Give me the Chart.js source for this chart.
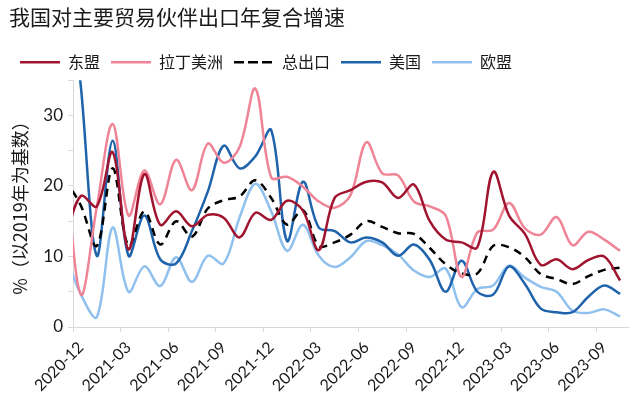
<!DOCTYPE html>
<html lang="zh">
<head>
<meta charset="UTF-8">
<title>我国对主要贸易伙伴出口年复合增速</title>
<style>
  body { margin: 0; padding: 0; background: #fff; overflow: hidden; }
  #chart { display: block; }
</style>
</head>
<body>
<canvas id="chart" width="640" height="412"></canvas>
<script src="https://cdn.jsdelivr.net/npm/chart.js@4.4.1/dist/chart.umd.min.js"></script>
<script>
// months: first one (2020-11) sits left of the axis and is only there so the lines reach the axis
const months = [
  '2020-11', '2020-12',
  '2021-01', '2021-02', '2021-03', '2021-04', '2021-05', '2021-06',
  '2021-07', '2021-08', '2021-09', '2021-10', '2021-11', '2021-12',
  '2022-01', '2022-02', '2022-03', '2022-04', '2022-05', '2022-06',
  '2022-07', '2022-08', '2022-09', '2022-10', '2022-11', '2022-12',
  '2023-01', '2023-02', '2023-03', '2023-04', '2023-05', '2023-06',
  '2023-07', '2023-08', '2023-09', '2023-10'
];

const asean = [12.5, 18.6,
  17.1, 24.8, 11.0, 21.7, 14.5, 16.4, 14.3, 15.9, 15.5, 12.7, 16.2, 15.2,
  17.9, 16.5, 10.9, 18.3, 19.4, 20.6, 20.5, 18.3, 20.2, 15.0, 12.4, 12.0,
  11.3, 22.0, 15.8, 13.2, 8.8, 9.6, 8.2, 9.5, 10.0, 6.6];

const latam = [24.0, 4.6,
  17.0, 28.8, 15.8, 22.2, 17.4, 23.7, 19.4, 26.0, 23.3, 25.5, 33.8, 21.2,
  21.3, 19.9, 17.8, 16.9, 18.7, 26.2, 21.8, 21.5, 17.8, 17.1, 15.8, 7.1,
  13.4, 13.8, 17.6, 14.0, 13.1, 15.6, 11.6, 13.5, 12.4, 10.8];

const total = [21.0, 17.2,
  11.5, 22.5, 11.5, 16.4, 11.7, 15.0, 12.8, 16.8, 18.0, 18.5, 20.8, 18.3,
  14.5, 16.6, 11.5, 12.0, 13.1, 15.0, 14.2, 13.3, 13.2, 11.2, 8.9, 7.6,
  7.6, 11.5, 11.3, 9.9, 7.5, 6.8, 6.1, 7.2, 8.1, 8.4];

const usa = [55.0, 34.0,
  10.1, 26.4, 10.1, 15.8, 9.6, 9.0, 13.6, 19.2, 25.7, 22.5, 24.2, 27.9,
  12.2, 20.6, 14.1, 13.6, 12.0, 12.7, 12.0, 10.1, 11.7, 9.5, 5.0, 9.4,
  5.0, 4.6, 8.6, 6.1, 2.6, 2.1, 2.1, 4.3, 5.9, 4.7];

const eu = [10.5, 4.6,
  1.4, 14.1, 5.0, 8.6, 5.8, 9.9, 6.4, 10.1, 9.0, 15.5, 20.3, 16.4,
  10.8, 14.5, 10.1, 8.5, 9.9, 12.2, 11.6, 10.3, 8.0, 7.1, 8.3, 2.8,
  5.4, 5.9, 8.7, 7.0, 5.7, 5.0, 2.3, 2.0, 2.5, 1.5];

const yTicks = [0, 10, 20, 30];

const cjk = '"Noto Sans CJK SC", sans-serif';
const latin = 'Lato, "Liberation Sans", sans-serif';
const axisGray = '#d9d9d9';

function series(label, data, color, dash) {
  return {
    label: label,
    data: data,
    borderColor: color,
    backgroundColor: color,
    borderWidth: 2.5,
    borderDash: dash || [],
    pointRadius: 0,
    tension: 0.35,
    fill: false
  };
}

new Chart(document.getElementById('chart'), {
  type: 'line',
  data: {
    labels: months,
    datasets: [
      series('东盟', asean, '#a1142f'),
      series('拉丁美洲', latam, '#f08497'),
      series('总出口', total, '#000000', [8, 6]),
      series('美国', usa, '#1f63ac'),
      series('欧盟', eu, '#8fc0ee')
    ]
  },
  options: {
    responsive: false,
    animation: false,
    devicePixelRatio: 1,
    layout: { padding: { left: 9, right: 12, top: 0, bottom: 0 } },
    plugins: {
      tooltip: { enabled: false },
      title: {
        display: true,
        text: '我国对主要贸易伙伴出口年复合增速',
        align: 'start',
        color: '#1a1a1a',
        font: { family: cjk, size: 21, weight: 'normal' },
        padding: { top: 4, bottom: 14 }
      },
      legend: {
        align: 'start',
        labels: {
          boxWidth: 40,
          boxHeight: 0,
          padding: 11,
          color: '#1a1a1a',
          font: { family: cjk, size: 16 }
        }
      }
    },
    scales: {
      x: {
        type: 'category',
        min: months[1],
        offset: true,
        border: { color: axisGray },
        grid: {
          offset: true,
          drawOnChartArea: false,
          tickLength: 5,
          color: ctx => (ctx.index % 3 === 0 ? axisGray : 'rgba(0,0,0,0)')
        },
        ticks: {
          autoSkip: false,
          minRotation: 45,
          maxRotation: 45,
          padding: 6,
          color: '#1a1a1a',
          font: { family: latin, size: 16 },
          callback: function (value, index) {
            return index % 3 === 0 ? this.getLabelForValue(value) : '';
          }
        },
        afterFit: s => { s.height = 85; }
      },
      y: {
        min: 0,
        max: 35,
        border: { color: axisGray },
        grid: { drawOnChartArea: false, tickLength: 5, color: axisGray },
        title: {
          display: true,
          text: '%（以2019年为基数）',
          color: '#1a1a1a',
          font: { family: cjk, size: 18 },
          padding: { top: 0, bottom: 2 }
        },
        ticks: {
          stepSize: 5,
          padding: 5,
          color: '#1a1a1a',
          font: { family: latin, size: 17 },
          callback: v => (yTicks.includes(v) ? v : '')
        },
        afterFit: s => { s.width = 64; }
      }
    }
  }
});
</script>
</body>
</html>
